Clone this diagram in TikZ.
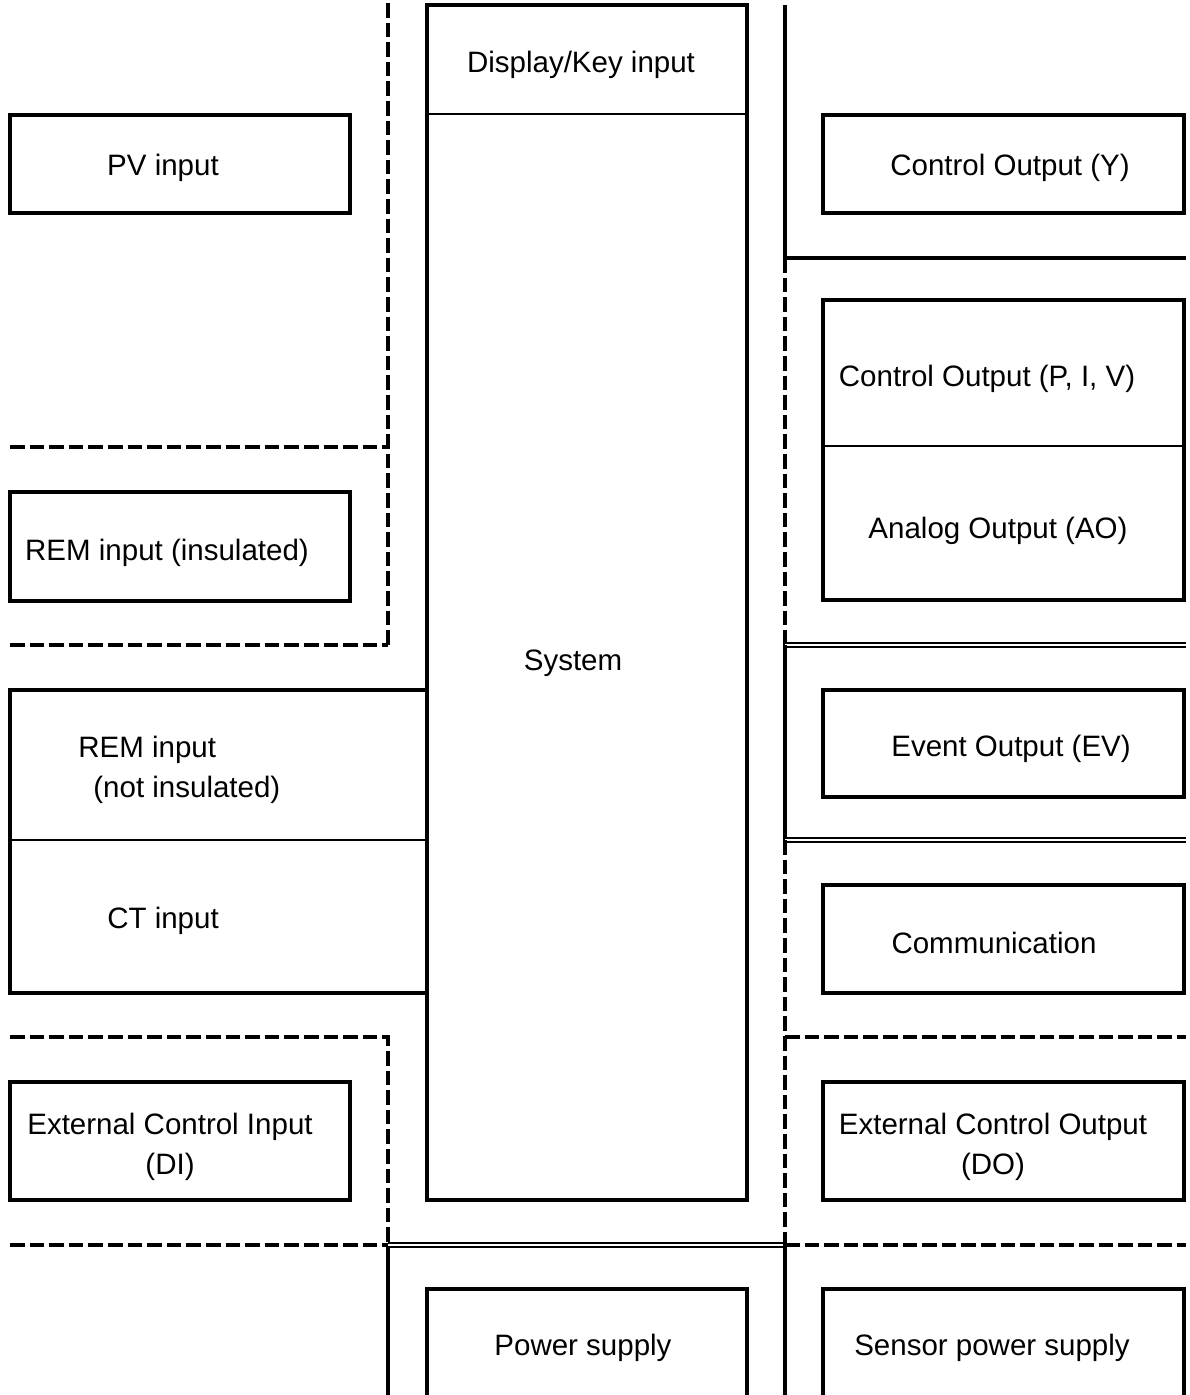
\documentclass[tikz,border=0pt]{standalone}
\usepackage{fontspec}
\setmainfont{Liberation Sans}
\usetikzlibrary{fit}
\begin{document}
\begin{tikzpicture}[x=0.5pt,y=-0.5pt,
  thk/.style={line width=1.65pt},
  thn/.style={line width=0.85pt},
  dsh/.style={line width=1.65pt, dash pattern=on 7.3pt off 2.5pt},
  dbl/.style={double, line width=0.95pt, double distance=1.1pt},
  box/.style={draw, line width=1.65pt, inner sep=0pt},
  lbl/.style={font=\fontsize{14.75pt}{20pt}\selectfont, inner sep=0pt, align=center, yshift=-1.5pt}]
\useasboundingbox (0,0) rectangle (1189,1395);

% ---- left column ----
\node[box, fit={(10,115)(350,213)}] (pv) {};
\node[lbl] (pvT) at (163,165) {PV input};
\node[box, fit={(10,492)(350,601)}] (remi) {};
\node[lbl] (remiT) at (167,550) {REM input (insulated)};
\node[box, fit={(10,690)(427,993)}] (remct) {};
\draw[thn] (10,840) -- (427,840);
\node[lbl, anchor=west, align=left] (remnT) at (78,766.5) {REM input\\\hspace*{7.5pt}(not insulated)};
\node[lbl] (ctT) at (163,918) {CT input};
\node[box, fit={(10,1082)(350,1200)}] (di) {};
\node[lbl] (diT) at (170,1144) {External Control Input\\(DI)};

% ---- centre column ----
\node[box, fit={(427,5)(747,1200)}] (sys) {};
\draw[thn] (427,114) -- (747,114);
\node[lbl] (dispT) at (581,62) {Display/Key input};
\node[lbl] (sysT) at (573,660) {System};
\draw[thk] (427,1400) -- (427,1289) -- (747,1289) -- (747,1400);
\node[lbl] (psT) at (583,1345) {Power supply};

% ---- right column ----
\node[box, fit={(823,115)(1184,213)}] (cy) {};
\node[lbl] (cyT) at (1010,165) {Control Output (Y)};
\node[box, fit={(823,300)(1184,600)}] (cp) {};
\draw[thn] (823,446) -- (1184,446);
\node[lbl] (cpT) at (987,376) {Control Output (P, I, V)};
\node[lbl] (aoT) at (998,528) {Analog Output (AO)};
\node[box, fit={(823,690)(1184,797)}] (ev) {};
\node[lbl] (evT) at (1011,746) {Event Output (EV)};
\node[box, fit={(823,885)(1184,993)}] (com) {};
\node[lbl] (comT) at (994,940) {Communication};
\node[box, fit={(823,1082)(1184,1200)}] (do) {};
\node[lbl] (doT) at (993,1144) {External Control Output\\(DO)};
\draw[thk] (823,1400) -- (823,1289) -- (1184,1289) -- (1184,1400);
\node[lbl] (spsT) at (992,1345) {Sensor power supply};

% ---- separators ----
\draw[dsh] (388,3) -- (388,645);
\draw[dsh] (10,447) -- (388,447);
\draw[dsh] (10,645) -- (388,645);
\draw[dsh] (10,1037) -- (388,1037) -- (388,1245);
\draw[dsh] (10,1245) -- (388,1245);
\draw[thk] (388,1245) -- (388,1400);
\draw[dbl] (388,1245) -- (785,1245);

\draw[thk] (785,5) -- (785,258) -- (1186,258);
\draw[dsh] (785,258) -- (785,645);
\draw[dbl] (785,645) -- (1186,645);
\draw[thk] (785,645) -- (785,840);
\draw[dbl] (785,840) -- (1186,840);
\draw[dsh] (785,840) -- (785,1245);
\draw[dsh] (785,1037) -- (1186,1037);
\draw[dsh] (785,1245) -- (1186,1245);
\draw[thk] (785,1245) -- (785,1400);
\end{tikzpicture}
\end{document}
